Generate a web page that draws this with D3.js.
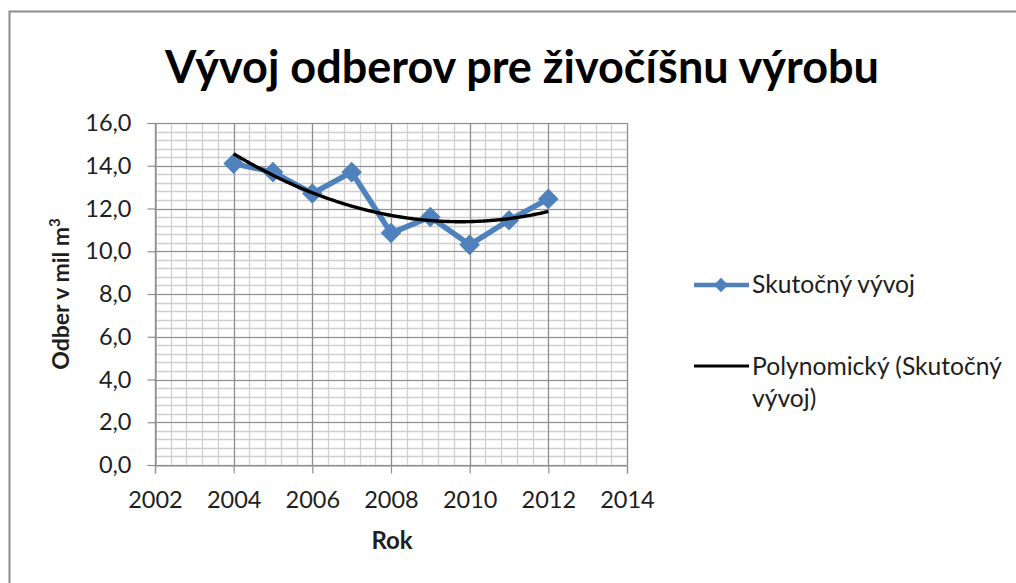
<!DOCTYPE html>
<html>
<head>
<meta charset="utf-8">
<script src="https://cdn.jsdelivr.net/npm/d3@7"></script>
<style>
  html, body { margin: 0; padding: 0; background: #fff; }
  svg { display: block; font-family: Lato, "Open Sans", sans-serif; }
</style>
</head>
<body>
<svg id="chart" width="1016" height="583"></svg>
<script>
// Ročné odbery vody pre živočíšnu výrobu (mil. m³)
const years = [2004, 2005, 2006, 2007, 2008, 2009, 2010, 2011, 2012];
const values = [14.1, 13.7, 12.7, 13.7, 10.85, 11.6, 10.3, 11.45, 12.45];
const xTicks = [2002, 2004, 2006, 2008, 2010, 2012, 2014];
const yTicks = [0, 2, 4, 6, 8, 10, 12, 14, 16];
const titleText = "Vývoj odberov pre živočíšnu výrobu";
const seriesName = "Skutočný vývoj";
const trendName = ["Polynomický (Skutočný", "vývoj)"];

const svg = d3.select("#chart");
const plot = { left: 155, right: 627, top: 123, bottom: 465 };
const labelSize = 23.5;
const textColor = "#1e1e1e";

const x = d3.scaleLinear().domain([2002, 2014]).range([plot.left, plot.right]);
const y = d3.scaleLinear().domain([0, 16]).range([plot.bottom, plot.top]);

// shrink or grow a text element's font so it spans the given width
function fitWidth(sel, base, width) {
  sel.attr("font-size", base);
  const w = sel.node().getComputedTextLength();
  sel.attr("font-size", base * width / w);
  return sel;
}

// outer frame of the chart object
svg.append("path")
  .attr("d", `M9.5,583 V11.5 H1016`)
  .attr("fill", "none").attr("stroke", "#8c8c8c").attr("stroke-width", 2);

// title
const title = svg.append("text")
  .attr("x", 522).attr("y", 83)
  .attr("text-anchor", "middle")
  .attr("font-weight", "bold")
  .attr("fill", "#000")
  .text(titleText);
fitWidth(title, 40, 714);

// minor grid (every 0.4)
const xMinor = d3.range(2002, 2014.001, 0.4);
const yMinor = d3.range(0, 16.001, 0.4);
const g = svg.append("g");
g.selectAll("line.xm").data(xMinor).join("line")
  .attr("x1", d => Math.round(x(d)) + 0.5).attr("x2", d => Math.round(x(d)) + 0.5)
  .attr("y1", plot.top).attr("y2", plot.bottom)
  .attr("stroke", "#cfcfcf").attr("stroke-width", 1.3);
g.selectAll("line.ym").data(yMinor).join("line")
  .attr("y1", d => Math.round(y(d)) + 0.5).attr("y2", d => Math.round(y(d)) + 0.5)
  .attr("x1", plot.left).attr("x2", plot.right)
  .attr("stroke", "#cfcfcf").attr("stroke-width", 1.3);

// major grid
g.selectAll("line.xM").data(xTicks).join("line")
  .attr("x1", d => Math.round(x(d)) + 0.5).attr("x2", d => Math.round(x(d)) + 0.5)
  .attr("y1", plot.top).attr("y2", plot.bottom)
  .attr("stroke", "#8e8e8e").attr("stroke-width", 1.2);
g.selectAll("line.yM").data(yTicks).join("line")
  .attr("y1", d => Math.round(y(d)) + 0.5).attr("y2", d => Math.round(y(d)) + 0.5)
  .attr("x1", plot.left).attr("x2", plot.right)
  .attr("stroke", "#8e8e8e").attr("stroke-width", 1.2);

// axes
const fmt = d => d3.format(".1f")(d).replace(".", ",");
const yAxis = svg.append("g")
  .attr("transform", `translate(${plot.left + 0.5},0)`)
  .call(d3.axisLeft(y).tickValues(yTicks).tickFormat(fmt).tickSize(8).tickPadding(16));
const xAxis = svg.append("g")
  .attr("transform", `translate(0,${plot.bottom + 0.5})`)
  .call(d3.axisBottom(x).tickValues(xTicks).tickFormat(d3.format("d")).tickSize(8).tickPadding(18));
[yAxis, xAxis].forEach(a => {
  a.select(".domain").attr("stroke", "#8e8e8e").attr("stroke-width", 1.2);
  a.selectAll(".tick line").attr("stroke", "#8e8e8e").attr("stroke-width", 1.2);
  a.selectAll("text").attr("font-family", "Lato, sans-serif").attr("font-size", labelSize).attr("fill", textColor);
});
xAxis.selectAll("text").attr("dy", "0.72em");

// axis titles
svg.append("text")
  .attr("x", 392).attr("y", 549)
  .attr("text-anchor", "middle").attr("font-weight", "bold").attr("font-size", 24)
  .attr("fill", textColor)
  .text("Rok");
const yt = svg.append("text")
  .attr("transform", "translate(69,294) rotate(-90)")
  .attr("text-anchor", "middle").attr("font-weight", "bold").attr("font-size", 23)
  .attr("fill", textColor);
yt.append("tspan").text("Odber v mil m");
yt.append("tspan").attr("dy", -9).attr("font-size", 15).text("3");

// data series
const pts = years.map((yr, i) => [yr, values[i]]);
const blue = "#4f81bd";
svg.append("path")
  .datum(pts)
  .attr("d", d3.line().x(d => x(d[0])).y(d => y(d[1])))
  .attr("fill", "none").attr("stroke", blue).attr("stroke-width", 5.5)
  .attr("stroke-linejoin", "round");
const diamond = d3.symbol().type(d3.symbolDiamond2).size(270);
svg.selectAll("path.mk").data(pts).join("path")
  .attr("transform", d => `translate(${x(d[0])},${y(d[1])})`)
  .attr("d", diamond).attr("fill", blue);

// second-order least-squares trendline of the series
function quadFit(xs, ys) {
  const m = d3.mean(xs);
  const t = xs.map(v => v - m);
  const n = t.length;
  const S = k => d3.sum(t, v => Math.pow(v, k));
  const Sy = k => d3.sum(t, (v, i) => Math.pow(v, k) * ys[i]);
  // normal equations solved by Cramer's rule
  const A = [[n, S(1), S(2)], [S(1), S(2), S(3)], [S(2), S(3), S(4)]];
  const B = [Sy(0), Sy(1), Sy(2)];
  const det = M => M[0][0]*(M[1][1]*M[2][2]-M[1][2]*M[2][1]) - M[0][1]*(M[1][0]*M[2][2]-M[1][2]*M[2][0]) + M[0][2]*(M[1][0]*M[2][1]-M[1][1]*M[2][0]);
  const D = det(A);
  const coef = [0, 1, 2].map(j => det(A.map((row, i) => row.map((v, k) => k === j ? B[i] : v))) / D);
  return v => coef[0] + coef[1] * (v - m) + coef[2] * (v - m) * (v - m);
}
const trend = quadFit(years, values);
const trendPts = d3.range(years[0], years[years.length - 1] + 0.0001, 0.05).map(v => [v, trend(v)]);
svg.append("path")
  .datum(trendPts)
  .attr("d", d3.line().x(d => x(d[0])).y(d => y(d[1])).curve(d3.curveMonotoneX))
  .attr("fill", "none").attr("stroke", "#000").attr("stroke-width", 3.4);

// legend
const lg = svg.append("g").attr("fill", textColor);
lg.append("line").attr("x1", 694).attr("x2", 749).attr("y1", 285).attr("y2", 285)
  .attr("stroke", blue).attr("stroke-width", 4.5);
lg.append("path").attr("transform", "translate(721,285)")
  .attr("d", d3.symbol().type(d3.symbolDiamond2).size(130)).attr("fill", blue);
const t1 = lg.append("text").attr("x", 752).attr("y", 293).text(seriesName);
fitWidth(t1, 20, 163);
const legendSize = +t1.attr("font-size");
lg.append("line").attr("x1", 694).attr("x2", 749).attr("y1", 366).attr("y2", 366)
  .attr("stroke", "#000").attr("stroke-width", 3.2);
lg.selectAll("text.tn").data(trendName).join("text")
  .attr("class", "tn")
  .attr("x", 752).attr("y", (d, i) => 375 + i * 32)
  .attr("font-size", legendSize)
  .text(d => d);
</script>
</body>
</html>
